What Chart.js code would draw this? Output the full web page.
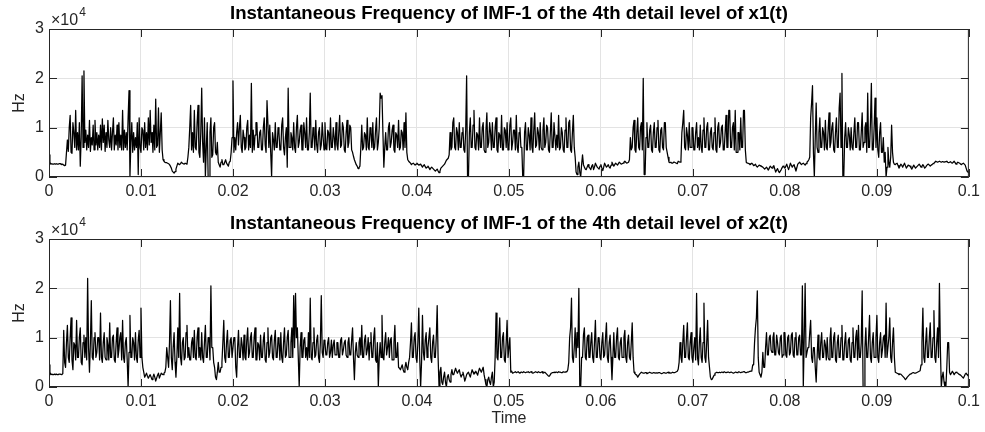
<!DOCTYPE html>
<html>
<head>
<meta charset="utf-8">
<title>Instantaneous Frequency</title>
<script src="https://cdn.jsdelivr.net/npm/chart.js@4.4.1/dist/chart.umd.min.js"></script>
<style>
  html, body { margin: 0; padding: 0; background: #fff; }
  #wrap { position: relative; width: 985px; height: 432px; }
  #wrap canvas { position: absolute; left: 0; }
  #c1 { top: 0; }
  #c2 { top: 216px; }
</style>
</head>
<body>
<div id="wrap">
  <canvas id="c1" width="985" height="216"></canvas>
  <canvas id="c2" width="985" height="216"></canvas>
</div>
<script>
// Sampling step of the frequency tracks (seconds)
const sampleStep = 0.0001;

// Axis ticks
const timeTicks = [0, 0.01, 0.02, 0.03, 0.04, 0.05, 0.06, 0.07, 0.08, 0.09, 0.1];
const timeLabels = ["0", "0.01", "0.02", "0.03", "0.04", "0.05", "0.06", "0.07", "0.08", "0.09", "0.1"];
const freqTicks = [0, 10, 20, 30];          // kHz
const freqLabels = ["0", "1", "2", "3"];    // x10^4 Hz

// Instantaneous frequency of IMF-1, x1(t), in kHz (one row = 1 ms)
const freqX1 = [
  4.5, 3, 2.6, 2.7, 2.6, 2.6, 2.7, 2.6, 2.7, 2.6,
  2.6, 2.7, 2.7, 2.6, 2.5, 2.6, 2.4, 2.3, 2.4, 5,
  7.5, 5.2, 10, 12.5, 5, 4.8, 11, 9, 6, 13.5,
  5.5, 9, 5.5, 11, 2.2, 8, 20.5, 6, 21.5, 7,
  9.5, 5.5, 8.5, 6, 11.5, 5.2, 8, 6.5, 10.5, 5.5,
  11.5, 6.5, 9, 5.5, 8.5, 6, 10.5, 5.5, 11.8, 7,
  10.5, 5.2, 9, 6, 11.5, 7.5, 6, 10, 5.5, 9,
  12, 5.5, 8.5, 6.5, 10.5, 5.5, 11, 6, 8.5, 5.5,
  13.5, 5.5, 9.5, 6, 9, 5.5, 12, 17.5, 0, 7,
  11, 5, 9, 5.5, 8, 6, 11, 0.5, 12, 6,
  5, 10, 9.5, 5.5, 11, 6, 9, 5.5, 12, 6.5,
  13.5, 7, 9, 5, 10.5, 5.5, 15.8, 6, 6.5, 14,
  5, 9, 13, 5.5, 3.5, 3.2, 3, 2.9, 2.9, 2.8,
  2.7, 2.5, 2.2, 1.8, 1.2, 1, 0.8, 1.1, 1.6, 2.2,
  2.8, 2.6, 2.5, 2.7, 3, 2.8, 2.7, 2.6, 2.8, 2.7,
  2.6, 4, 6, 10, 14.5, 5.5, 9, 5, 13.5, 6,
  5.5, 11, 14.5, 5, 4, 9, 18, 7, 3, 12,
  0, 6, 11, 0, 0, 9, 12, 4, 4.5, 10,
  11, 5, 4.5, 7, 3, 2.5, 2, 3, 3.5, 2.5,
  2.5, 3, 3.5, 2.8, 2.5, 2.2, 3, 3.2, 5, 8,
  19.5, 5, 8, 5.5, 9, 11, 6.5, 10, 12.5, 6,
  5, 9.5, 8, 5.5, 6, 10, 11.5, 5.5, 8.5, 6,
  19, 5, 9.5, 5.5, 8.5, 11, 11, 6, 6, 9,
  9.5, 5.5, 5.5, 10, 12, 6.5, 5, 15.5, 15.5, 6,
  10.5, 5, 0, 9, 7.5, 5.5, 11, 6, 6, 10,
  9, 5.5, 5.5, 10.5, 12, 6, 4.5, 8, 10, 2,
  18, 6, 6, 9, 8, 5.5, 11, 6, 5, 10,
  12.5, 6, 7, 9.5, 10.5, 5.5, 5.5, 11, 9, 6,
  12, 5.5, 5.5, 9, 17, 6, 6, 10, 8.5, 5.5,
  11.5, 6.5, 5, 9, 10, 5.5, 6.5, 11, 8, 5.5,
  11, 6, 5.5, 9.5, 9, 5.5, 12, 6, 6, 10,
  8, 5.5, 11, 6.5, 5.5, 9, 12.5, 6, 6.5, 11,
  10, 5.5, 5, 9, 11.5, 6, 7, 10.5, 10, 5.5,
  5, 4.2, 3.5, 3, 2.5, 2.2, 1.7, 1.9, 2.2, 6,
  10.5, 5.5, 6, 9, 8.5, 5.5, 12, 6, 5.5, 10,
  9, 6, 11, 5.5, 6, 9.5, 12, 5.5, 7, 10,
  17, 16, 16.5, 9, 2, 6, 9, 5.5, 5.5, 10,
  11, 6, 7, 9.5, 10.5, 5.5, 5, 9, 8.5, 6,
  11.5, 5.5, 6, 9.5, 9, 5.5, 11, 6, 13, 5,
  3.5, 3.2, 3, 2.8, 2.5, 2.7, 2.8, 2.6, 2.4, 2.6,
  2.8, 2.6, 2.4, 2.5, 2.6, 2.3, 2, 2.3, 2.5, 2.1,
  1.8, 2, 2.2, 1.9, 1.5, 1.8, 2, 1.8, 1.6, 1.4,
  1.2, 1.4, 1.6, 1.2, 0.9, 1.2, 1.8, 2, 2.2, 2.4,
  2.6, 3, 3.4, 3.6, 3.8, 4.5, 9, 5.5, 6, 11,
  12, 6, 5.5, 10, 9, 5.5, 11, 6, 6, 9,
  10, 5.5, 5, 9.5, 20.5, 0, 0, 9, 12, 6,
  6, 10.5, 13.5, 6, 5.5, 9, 8.5, 5.5, 12, 6,
  6, 10, 11, 5.5, 5, 9.5, 13, 6, 7, 11,
  9, 5.5, 11, 6, 6, 10, 12, 5.5, 5, 9,
  8.5, 6, 12.5, 5.5, 5.5, 10, 9.5, 6, 11, 5.5,
  6, 10.5, 12, 5.5, 7, 9.5, 9.5, 5.5, 12.5, 6,
  5, 9, 10, 6, 6, 0, 0, 9, 11, 5.5,
  5.5, 10, 8.5, 5.5, 12, 6, 5, 9.5, 13, 6,
  6.5, 10, 9, 5.5, 11, 6, 5.5, 9.5, 12, 6,
  7, 10.5, 10, 5.5, 5, 9, 13, 6, 6, 11,
  11, 5.5, 8.5, 6, 12.5, 5.5, 6, 10, 9, 5.5,
  5, 9.5, 12, 6, 6, 11, 11.5, 5.5, 5, 9,
  12.5, 6, 4, 1, 0.5, 2, 3, 1, 0, 2.5,
  4.5, 2.5, 2, 1.6, 1.5, 2, 2.5, 2, 1.8, 1.5,
  2.2, 2.5, 1.5, 2, 2.8, 2.4, 2, 1.8, 1.6, 2.2,
  2.5, 1.8, 1.3, 2, 2.8, 2.4, 2, 2.2, 2.5, 2,
  1.8, 2.4, 3, 2.6, 2.2, 2.5, 2.8, 2.6, 2.4, 2.7,
  3, 2.8, 2.6, 2.7, 2.8, 3, 3.2, 3, 2.8, 2.9,
  3, 3.5, 8, 5.5, 6, 10, 11.5, 5.5, 5, 9,
  12, 6, 5.5, 10, 11, 5.5, 20, 0.5, 0.5, 8,
  11, 6, 6, 9.5, 10.5, 5.5, 5, 9, 11, 6,
  6, 10, 11.5, 5.5, 5, 9.5, 10, 6, 5.5, 11,
  11, 6, 5, 4, 3, 2.9, 3, 2.8, 2.8, 3,
  3, 2.9, 2.8, 2.7, 3.2, 3.1, 3, 3.5, 9, 11,
  13.5, 6, 5.5, 10, 8.5, 5.5, 11, 6, 6, 10,
  10, 5.5, 5.5, 9, 11, 6, 8, 5.5, 10.5, 6,
  5, 9.5, 12, 6, 6, 10, 11, 5.5, 5.5, 9,
  10, 6, 5.5, 9, 12, 5.5, 5, 10, 11, 6,
  7, 10, 10.5, 5.5, 5.5, 9, 12.5, 6, 6, 13.5,
  13.5, 6, 6, 10, 11, 5.5, 13.5, 5, 5, 9,
  9, 5.5, 12, 6, 6, 13.5, 13.5, 5.5, 3, 2.8,
  2.8, 2.7, 2.5, 2.6, 2.8, 2.6, 2.3, 2.4, 2.6, 2.2,
  2, 2.2, 2.4, 2.3, 2.2, 2.1, 2, 1.8, 1.6, 1.8,
  2, 1.7, 1.4, 1.8, 2.2, 2, 1.8, 2.1, 2.3, 1.6,
  1, 1.4, 1.7, 1.2, 0.9, 1.2, 1.5, 1.9, 2.2, 2,
  1.8, 2.2, 2.6, 2, 1.5, 2.1, 2.8, 2.4, 2, 2.3,
  2.5, 1.8, 1.2, 1.9, 2.6, 2.8, 3, 2.7, 2.5, 2.7,
  2.8, 2.6, 2.4, 2.7, 3, 3.2, 3.5, 4, 12, 15,
  18.5, 5, 0, 8, 15, 6, 5, 9, 12, 6,
  6, 10, 9, 5.5, 11.5, 6, 5.5, 9.5, 13, 6,
  7, 10, 11, 5.5, 5, 9, 12, 6, 6, 14,
  17, 6, 21, 0, 0, 8, 11, 6, 6, 10,
  8.5, 5.5, 10, 6, 5.5, 9, 12, 6, 6, 11,
  11, 5.5, 5.5, 9, 13, 6, 7, 10, 11, 5,
  17, 6, 6, 11, 19, 5.5, 5.5, 10, 16, 6,
  12, 5.5, 4, 9, 11, 5, 5, 8, 3, 5,
  0, 2, 6, 3, 2, 4, 10.5, 5, 3, 2.6,
  2.5, 2.7, 2.8, 2.3, 1.8, 2.2, 2.6, 2.4, 2, 2.4,
  2.8, 2.3, 1.8, 2.1, 2.4, 2.3, 2.2, 1.9, 1.6, 2,
  2.4, 2.1, 1.8, 2, 2.2, 2.4, 2.6, 2.3, 2, 2.2,
  2.5, 2.2, 1.8, 2, 2.3, 2.5, 2.6, 2.4, 2.2, 2.4,
  2.5, 2.7, 2.8, 3, 3.2, 3.1, 3, 3.1, 3.2, 3.1,
  3, 3.1, 3.1, 3, 3, 3.1, 3.2, 3, 2.9, 3,
  3.1, 2.9, 2.8, 3, 3.2, 2.9, 2.6, 2.8, 3, 2.9,
  2.8, 2.6, 2.5, 2.7, 2.8, 2.6, 2.4, 1.8, 1.2, 1,
  0.8
];

// Instantaneous frequency of IMF-1, x2(t), in kHz (one row = 1 ms)
const freqX2 = [
  4.5, 3, 2.5, 2.6, 2.5, 2.5, 2.6, 2.5, 2.6, 2.5,
  2.5, 2.6, 2.6, 2.6, 2.5, 2.7, 11.5, 5, 4, 9,
  12.5, 6, 5, 10, 14, 5.5, 3.5, 9, 8.5, 5.5,
  13.5, 6, 6, 10, 12, 5, 4.5, 9, 10.5, 6,
  10, 5.5, 22, 8, 3, 9, 17.5, 6, 5.5, 10,
  11, 6, 7, 10, 10, 5.5, 15, 6, 5, 9,
  11, 6, 5.5, 10, 8.5, 5.5, 13, 6, 6, 10,
  10.5, 5.5, 5, 9, 12, 6, 7.5, 10, 11, 5.5,
  13.5, 6, 5, 9, 10, 5.5, 0, 7, 14.5, 6,
  6, 10, 9, 5.5, 11, 6, 5, 9.5, 11.5, 6,
  16, 6, 4, 3, 2, 2.4, 2.8, 2.2, 1.8, 2.2,
  2.5, 2, 1.5, 2, 2.6, 2, 1.2, 1.8, 2.4, 2.8,
  1.8, 2.3, 2.8, 2.6, 2.5, 2.8, 3, 4, 8, 6,
  4, 9, 17.5, 6, 3.5, 8, 11, 5, 2, 6,
  12, 6, 19, 6, 4.5, 9, 10, 5.5, 6, 11,
  12.5, 6, 8, 5.5, 5.5, 9, 10, 6, 11.5, 6,
  5.5, 10, 12, 6, 8, 5.5, 11, 6, 5, 9,
  12.5, 6, 6, 10, 10, 5.5, 20.5, 8, 8, 5,
  4, 2, 1.5, 3, 5, 3, 3, 4, 5, 9,
  13.5, 6, 5, 9, 11.5, 6, 6, 9.5, 10, 6,
  6, 10, 10, 4, 2, 8, 11.5, 6, 6, 10,
  8.5, 5.5, 10.5, 6, 5.5, 9.5, 12, 6, 7, 10,
  11, 6, 6, 10, 12, 5.5, 5.5, 9, 8.5, 5.5,
  10.5, 6, 6, 9.5, 11, 5.5, 5, 9, 12, 6,
  7, 10, 10.5, 6, 5.5, 9.5, 11.5, 6, 6, 10,
  9, 5.5, 11, 6, 5, 9, 12, 6, 6.5, 10,
  11.5, 6, 6, 9, 12, 6, 18.5, 8, 19, 10,
  12, 6, 0, 8, 11, 6, 6, 9.5, 10, 6,
  8, 5.5, 11, 6, 18, 6, 5.5, 9, 12, 6,
  6.5, 9.5, 10.5, 6, 5, 9, 18.5, 7, 6, 9.5,
  9, 6.5, 6.5, 9, 10, 6, 7, 9.5, 6, 8.5,
  9.5, 6.5, 6.5, 9, 9, 6, 6, 9.5, 10, 6.5,
  7.5, 9, 9.5, 6.5, 6, 9, 10, 6.5, 6.5, 9.5,
  12, 6, 1.5, 7, 9, 6.5, 6, 9, 10, 6.5,
  12.5, 6, 6, 9.5, 10.5, 6.5, 7.5, 10, 5.5, 9,
  11, 6, 6, 10, 12, 5.5, 5, 9, 0, 6,
  9, 6, 14.5, 6, 5.5, 9, 11, 6.5, 8, 10,
  6, 9.5, 10, 5.5, 5.5, 9, 12.5, 6, 6, 9,
  4, 3.8, 3.5, 4, 4.5, 3.5, 3, 4, 5, 4,
  3.5, 5, 6, 9, 13, 6, 6, 10, 11, 6,
  5, 9, 16, 6, 0, 5, 14.5, 7, 5.5, 9.5,
  11, 6, 8, 10, 12, 6, 5, 9, 10.5, 6,
  6, 10, 16.5, 6, 0, 3, 4, 1, 0.5, 2,
  3, 1, 0, 2, 2.5, 1.5, 1, 2.5, 3.5, 2.5,
  2.5, 3.2, 3.8, 3.2, 2.8, 3.2, 3.5, 2.6, 2, 2.5,
  3, 2.2, 1.2, 1.8, 2.5, 2.8, 3, 2.5, 2, 2.8,
  3.5, 3, 2.6, 2.8, 3.2, 2.8, 2.4, 3.2, 3.8, 3.4,
  3, 3.5, 4, 2.5, 1.5, 0.5, 0, 1.5, 2, 1,
  0.5, 2, 3, 0, 1, 6, 15, 6, 5.5, 10,
  14, 6, 6, 10, 11, 5.5, 5, 9, 13.5, 6,
  6, 10, 3, 3.2, 2.8, 2.9, 3, 3.1, 2.9, 3,
  3.1, 2.9, 2.8, 3, 3, 2.9, 3.1, 3, 2.9, 3,
  3, 3.1, 2.9, 3, 3.1, 2.9, 2.8, 2.9, 3, 3.1,
  3, 2.9, 3.1, 3, 2.9, 3, 3.1, 2.8, 2.9, 3,
  2.8, 2.6, 2.4, 2.2, 2.2, 2.5, 2.8, 2.9, 2.9, 3,
  2.9, 3, 3, 2.9, 3.1, 3, 3, 2.9, 2.9, 3.1,
  3, 3, 3.1, 3.1, 3.5, 5, 10, 12, 18, 6,
  5, 8, 12, 6, 11, 8, 20, 0, 0, 6,
  6, 10.5, 12, 6, 5.5, 10, 10.5, 6, 6, 9,
  11, 6, 5, 9, 13.5, 6, 6, 10, 10, 6,
  5.5, 9, 11, 6, 6.5, 10, 13, 6, 5, 9,
  10.5, 6, 1.5, 6, 11, 6, 6, 10, 12, 6,
  5.5, 9, 10, 6, 6, 10, 11.5, 6, 5, 9,
  10.5, 6, 5.5, 9, 13, 6, 3, 2.7, 2.5, 2.4,
  2, 2.3, 2.6, 2.8, 3, 2.9, 2.8, 2.8, 2.9, 2.9,
  2.7, 2.8, 2.9, 3, 2.9, 2.8, 2.8, 2.9, 2.9, 2.8,
  2.9, 2.8, 2.8, 2.9, 2.9, 2.8, 2.7, 2.8, 2.9, 2.9,
  2.8, 2.8, 2.9, 3, 2.8, 2.9, 2.8, 2.9, 3, 2.9,
  2.9, 3, 3.1, 3.2, 3.6, 5, 9, 6, 5, 9,
  12.5, 6, 6, 10, 13, 6, 5.5, 9, 11, 6,
  5, 8, 10, 5.5, 19, 6, 4.5, 9, 12, 6,
  5, 9, 17, 6, 5, 9, 13.5, 6, 4, 2,
  1.5, 1.6, 2, 2.4, 2.8, 2.9, 3, 2.9, 2.9, 3,
  2.9, 3, 3, 2.9, 3.1, 3, 2.9, 2.9, 3, 3,
  2.9, 3, 3, 2.9, 2.8, 2.9, 3, 3, 2.9, 3,
  3.1, 3, 2.9, 3, 3, 3.1, 3.1, 2.9, 2.9, 3,
  3, 3.1, 3.1, 3.2, 3.2, 4.5, 4.5, 9, 12, 14,
  19.5, 6, 3, 2.5, 2, 3, 7, 4, 4, 8,
  11, 6.5, 6.5, 10, 10.5, 7.5, 7, 10, 11, 6.5,
  6.5, 10.5, 9, 7, 6.5, 10, 10.5, 6, 6.5, 11,
  11, 6.5, 6, 10, 10.5, 6.5, 7, 10.5, 11, 6.5,
  6, 10, 11, 6.5, 6.5, 10, 10.5, 6.5, 6.5, 20.5,
  0, 10, 21, 6, 6, 8, 8, 11, 13.5, 6,
  5, 8, 8, 4, 1, 6, 10.5, 6, 5.5, 9,
  11, 6, 6, 9.5, 8.5, 5.5, 10, 6, 5.5, 9.5,
  12, 6, 6, 10, 11, 5.5, 5, 9, 10.5, 6,
  6, 10, 12.5, 5.5, 5.5, 9, 11, 6, 6, 9.5,
  10, 5.5, 5, 9, 12, 6, 6, 10, 11.5, 5.5,
  12.5, 6, 6, 9, 19.5, 0, 0, 8, 12, 6,
  6, 10, 14.5, 6, 5, 9, 11, 6, 6, 10,
  14.5, 6, 5, 9, 11, 6, 7.5, 10, 10.5, 6,
  17, 6, 6, 10, 14, 6, 5, 9, 12, 6,
  3, 2.9, 2.8, 2.7, 2.5, 2.6, 2.6, 2.4, 2.2, 2,
  1.8, 1.5, 1.7, 2, 2.2, 2.4, 2.6, 2.7, 2.8, 2.9,
  2.9, 2.8, 2.8, 2.9, 3, 3.1, 3.2, 3.3, 4.5, 9,
  16, 6, 5, 9, 12, 6, 6, 10, 13, 6,
  6, 10, 15.5, 6, 5, 9, 12, 6, 21, 8,
  0, 2, 3, 1, 0, 0, 4, 9, 9, 3,
  2.5, 2.8, 3.2, 2.9, 2.5, 2.8, 3, 2.9, 2.8, 2.6,
  2.5, 2.4, 2.2, 2, 1.8, 2.2, 2.6, 2.8, 2.5, 2.3,
  2.2
];

const FONT = "'Liberation Sans', Arial, Helvetica, sans-serif";
const AXIS_COLOR = "#262626";

// box, inward tick marks, title and the x10^4 multiplier
const axesFrame = {
    id: "axesFrame",
    afterDatasetsDraw(chart, args, opts) {
        const { ctx, chartArea: a, scales: { x, y } } = chart;
        const tickLen = 8;
        ctx.save();
        ctx.strokeStyle = AXIS_COLOR;
        ctx.lineWidth = 1;
        ctx.beginPath();
        timeTicks.forEach(t => {
            const px = Math.round(x.getPixelForValue(t)) + 0.5;
            ctx.moveTo(px, a.bottom); ctx.lineTo(px, a.bottom - tickLen);
            ctx.moveTo(px, a.top); ctx.lineTo(px, a.top + tickLen);
        });
        freqTicks.forEach(v => {
            const py = Math.round(y.getPixelForValue(v)) + 0.5;
            ctx.moveTo(a.left, py); ctx.lineTo(a.left + tickLen, py);
            ctx.moveTo(a.right, py); ctx.lineTo(a.right - tickLen, py);
        });
        ctx.stroke();
        ctx.strokeRect(a.left + 0.5, a.top + 0.5, a.width - 1, a.height - 1);

        // plot title
        ctx.fillStyle = "#000";
        ctx.font = "bold 18.6px " + FONT;
        ctx.textAlign = "center";
        ctx.textBaseline = "alphabetic";
        ctx.fillText(opts.title, (a.left + a.right) / 2, a.top - 10);

        // exponent label
        ctx.fillStyle = AXIS_COLOR;
        ctx.textAlign = "left";
        ctx.font = "16px " + FONT;
        const base = "\u00d710";
        ctx.fillText(base, a.left + 2, a.top - 4);
        const w = ctx.measureText(base).width;
        ctx.font = "12px " + FONT;
        ctx.fillText("4", a.left + 3 + w, a.top - 13);
        ctx.restore();
    }
};

function makeChart(canvasId, values, title, plotTop, xAxisHeight, showTime) {
    const points = values.map((v, i) => ({ x: i * sampleStep, y: v }));
    return new Chart(document.getElementById(canvasId), {
        type: "line",
        data: {
            datasets: [{
                data: points,
                borderColor: "#000",
                borderWidth: 1.25,
                borderJoinStyle: "round",
                pointRadius: 0,
                tension: 0,
                fill: false
            }]
        },
        options: {
            responsive: false,
            animation: false,
            parsing: false,
            layout: { padding: { top: plotTop, right: 13, left: 0, bottom: 0 } },
            plugins: {
                legend: { display: false },
                tooltip: { enabled: false },
                axesFrame: { title: title }
            },
            scales: {
                x: {
                    type: "linear",
                    min: 0,
                    max: 0.1,
                    afterBuildTicks: scale => { scale.ticks = timeTicks.map(v => ({ value: v })); },
                    afterFit: scale => { scale.height = xAxisHeight; },
                    grid: { color: "#e3e3e3", drawTicks: false },
                    border: { display: false },
                    ticks: {
                        padding: 5,
                        color: AXIS_COLOR,
                        font: { family: FONT, size: 16 },
                        maxRotation: 0,
                        autoSkip: false,
                        callback: (v, i) => timeLabels[i]
                    },
                    title: {
                        display: showTime,
                        text: "Time",
                        color: AXIS_COLOR,
                        font: { family: FONT, size: 16 },
                        padding: { top: 0, bottom: 4 }
                    }
                },
                y: {
                    min: 0,
                    max: 30,
                    afterBuildTicks: scale => { scale.ticks = freqTicks.map(v => ({ value: v })); },
                    afterFit: scale => { scale.width = 49; },
                    grid: { color: "#e3e3e3", drawTicks: false },
                    border: { display: false },
                    ticks: {
                        padding: 5,
                        color: AXIS_COLOR,
                        font: { family: FONT, size: 16 },
                        callback: (v, i) => freqLabels[i]
                    },
                    title: {
                        display: true,
                        text: "Hz",
                        color: AXIS_COLOR,
                        font: { family: FONT, size: 16 },
                        padding: { top: 10, bottom: 0 }
                    }
                }
            }
        },
        plugins: [axesFrame]
    });
}

makeChart("c1", freqX1, "Instantaneous Frequency of IMF-1 of the 4th detail level of x1(t)", 29, 39, false);
makeChart("c2", freqX2, "Instantaneous Frequency of IMF-1 of the 4th detail level of x2(t)", 23, 45, true);
</script>
</body>
</html>
